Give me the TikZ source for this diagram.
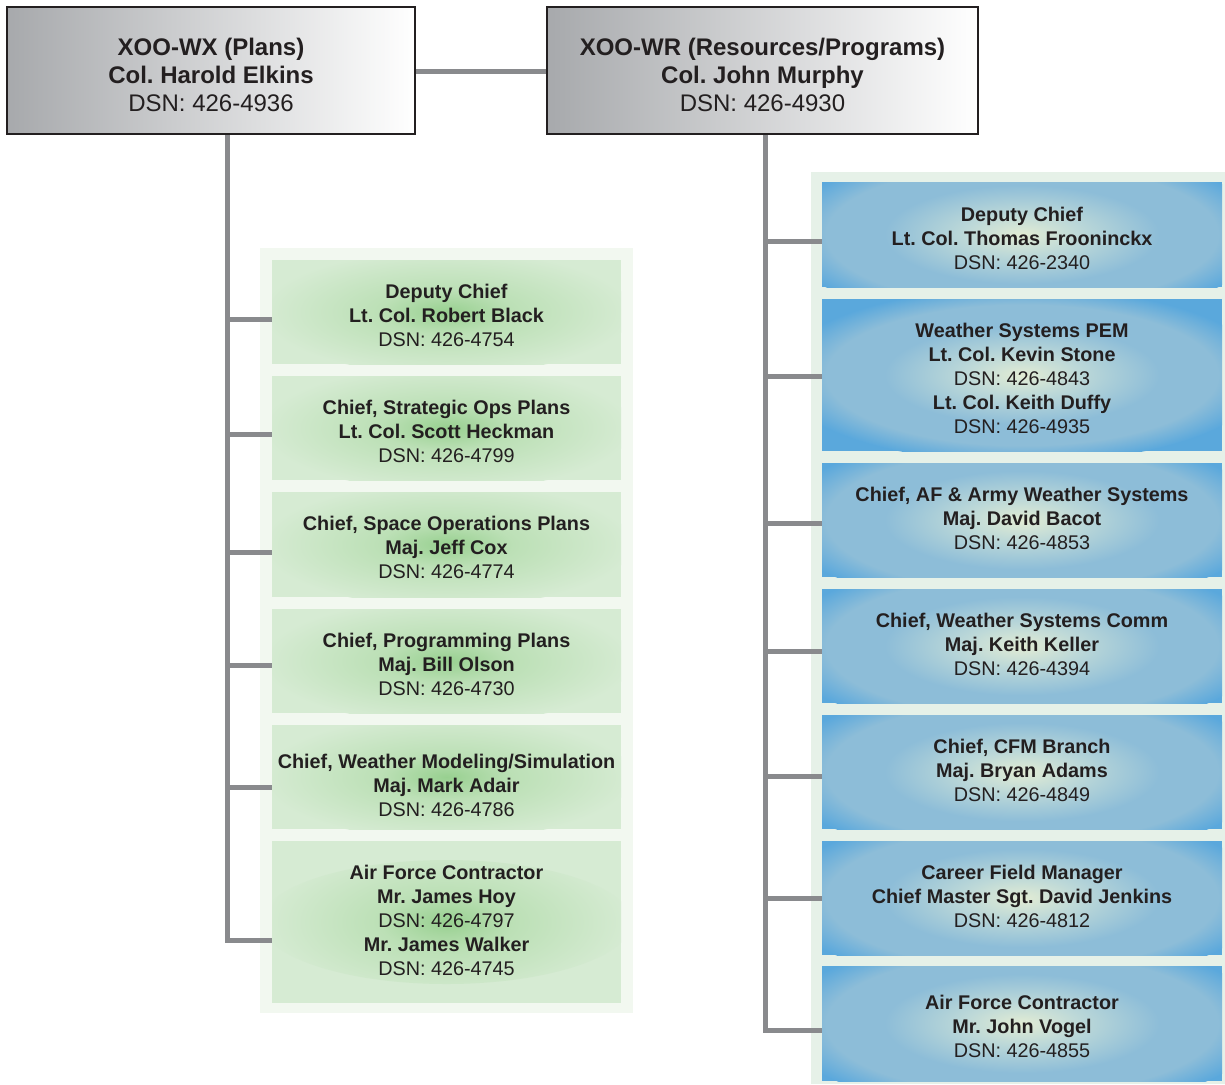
\documentclass[tikz,border=0pt]{standalone}
\usepackage{fontspec}
\setmainfont{Liberation Sans}
\frenchspacing
\definecolor{txt}{HTML}{231F20}
\definecolor{conn}{HTML}{898A8D}
\definecolor{grayL}{HTML}{A7A9AC}
\definecolor{gpanel}{HTML}{F2F8F0}
\definecolor{bpanel}{HTML}{E6F1E8}
\definecolor{gedge}{HTML}{D6EBD3}
\definecolor{gmid}{HTML}{BCE0B6}
\definecolor{gcent}{HTML}{98D090}
\definecolor{bedge}{HTML}{5AA8DC}
\definecolor{bmid}{HTML}{8DBDD8}
\definecolor{bpale}{HTML}{BCD8D8}
\definecolor{bcent}{HTML}{E2ECD4}
\pgfdeclareradialshading{gshade}{\pgfpoint{0bp}{0bp}}{color(0bp)=(gcent); color(9bp)=(gmid); color(25bp)=(gedge); color(50bp)=(gedge)}
\pgfdeclareradialshading{bshade}{\pgfpoint{0bp}{0bp}}{color(0bp)=(bcent); color(6bp)=(bpale); color(14bp)=(bmid); color(20bp)=(bmid); color(25bp)=(bedge); color(50bp)=(bedge)}
\tikzset{
  conline/.style={draw=conn,line width=5pt},
  topbox/.style={rectangle,draw=txt,line width=2.5pt,left color=grayL,right color=white,inner sep=0pt},
  toptext/.style={align=center,text=txt,inner sep=0pt,font=\fontsize{24}{28}\selectfont},
  boxtext/.style={align=center,text=txt,inner sep=0pt,font=\fontsize{19.8}{24}\selectfont},
  gbox/.style={rectangle,inner sep=0pt,minimum width=349pt,fill=gedge,
    path picture={\shade[shading=gshade]
      (path picture bounding box.center) ellipse (185pt and 62pt);}},
  bbox/.style={rectangle,inner sep=0pt,minimum width=400pt,fill=bedge,
    path picture={\shade[shading=bshade]
      (path picture bounding box.center) ellipse (245pt and 88pt);}},
}
\begin{document}
\begin{tikzpicture}[x=1pt,y=-1pt]
\useasboundingbox (0,0) rectangle (1225,1084);
% panels
\fill[gpanel] (260,248) rectangle (633,1013);
\fill[bpanel] (811,172) rectangle (1225,1084);
% top boxes
\node[topbox,minimum width=408pt,minimum height=127pt] (wx) at (211,70.5) {};
\node[toptext] (wxt) at ([yshift=-4.5pt]wx.center)
  {\textbf{XOO-WX (Plans)}\\\textbf{Col. Harold Elkins}\\DSN: 426-4936};
\node[topbox,minimum width=431pt,minimum height=127pt] (wr) at (762.5,70.5) {};
\node[toptext] (wrt) at ([yshift=-4.5pt]wr.center)
  {\textbf{XOO-WR (Resources/Programs)}\\\textbf{Col. John Murphy}\\DSN: 426-4930};
% green boxes
\node[gbox,minimum height=104pt] (g1) at (446.5,312) {};
\node[boxtext] (g1t) at ([yshift=-3pt]g1.center) {\textbf{Deputy Chief}\\\textbf{Lt. Col. Robert Black}\\DSN: 426-4754};
\node[gbox,minimum height=104pt] (g2) at (446.5,428) {};
\node[boxtext] (g2t) at ([yshift=-3pt]g2.center) {\textbf{Chief, Strategic Ops Plans}\\\textbf{Lt. Col. Scott Heckman}\\DSN: 426-4799};
\node[gbox,minimum height=105pt] (g3) at (446.5,544.5) {};
\node[boxtext] (g3t) at ([yshift=-3pt]g3.center) {\textbf{Chief, Space Operations Plans}\\\textbf{Maj. Jeff Cox}\\DSN: 426-4774};
\node[gbox,minimum height=104pt] (g4) at (446.5,661) {};
\node[boxtext] (g4t) at ([yshift=-3pt]g4.center) {\textbf{Chief, Programming Plans}\\\textbf{Maj. Bill Olson}\\DSN: 426-4730};
\node[gbox,minimum height=104pt] (g5) at (446.5,777) {};
\node[boxtext] (g5t) at ([yshift=-8pt]g5.center) {\textbf{Chief, Weather Modeling/Simulation}\\\textbf{Maj. Mark Adair}\\DSN: 426-4786};
\node[gbox,minimum height=162pt] (g6) at (446.5,922) {};
\node[boxtext] (g6t) at ([yshift=2pt]g6.center) {\textbf{Air Force Contractor}\\\textbf{Mr. James Hoy}\\DSN: 426-4797\\\textbf{Mr. James Walker}\\DSN: 426-4745};
% blue boxes
\node[bbox,minimum height=105pt] (b1) at (1022,234.5) {};
\node[boxtext] (b1t) at ([yshift=-4pt]b1.center) {\textbf{Deputy Chief}\\\textbf{Lt. Col. Thomas Frooninckx}\\DSN: 426-2340};
\node[bbox,minimum height=152pt] (b2) at (1022,375) {};
\node[boxtext] (b2t) at ([yshift=-3pt]b2.center) {\textbf{Weather Systems PEM}\\\textbf{Lt. Col. Kevin Stone}\\DSN: 426-4843\\\textbf{Lt. Col. Keith Duffy}\\DSN: 426-4935};
\node[bbox,minimum height=114pt] (b3) at (1022,520) {};
\node[boxtext] (b3t) at ([yshift=2pt]b3.center) {\textbf{Chief, AF \& Army Weather Systems}\\\textbf{Maj. David Bacot}\\DSN: 426-4853};
\node[bbox,minimum height=114pt] (b4) at (1022,646) {};
\node[boxtext] (b4t) at ([yshift=2pt]b4.center) {\textbf{Chief, Weather Systems Comm}\\\textbf{Maj. Keith Keller}\\DSN: 426-4394};
\node[bbox,minimum height=114pt] (b5) at (1022,772) {};
\node[boxtext] (b5t) at ([yshift=2pt]b5.center) {\textbf{Chief, CFM Branch}\\\textbf{Maj. Bryan Adams}\\DSN: 426-4849};
\node[bbox,minimum height=114pt] (b6) at (1022,898) {};
\node[boxtext] (b6t) at ([yshift=2pt]b6.center) {\textbf{Career Field Manager}\\\textbf{Chief Master Sgt. David Jenkins}\\DSN: 426-4812};
\node[bbox,minimum height=115pt] (b7) at (1022,1023.5) {};
\node[boxtext] (b7t) at ([yshift=-3pt]b7.center) {\textbf{Air Force Contractor}\\\textbf{Mr. John Vogel}\\DSN: 426-4855};
% connectors
\coordinate (tl) at (227,134);
\coordinate (tr) at (765,134);
\draw[conline] (wx.east |- 0,71) -- (wr.west |- 0,71);
\draw[conline] (wx.south -| tl) |- (g6.west |- 0,940);
\draw[conline] (g1.west |- 0,319) -- (tl |- 0,319);
\draw[conline] (g2.west |- 0,434) -- (tl |- 0,434);
\draw[conline] (g3.west |- 0,552) -- (tl |- 0,552);
\draw[conline] (g4.west |- 0,665) -- (tl |- 0,665);
\draw[conline] (g5.west |- 0,787) -- (tl |- 0,787);
\draw[conline] (wr.south -| tr) |- (b7.west |- 0,1030);
\draw[conline] (b1.west |- 0,241) -- (tr |- 0,241);
\draw[conline] (b2.west |- 0,376) -- (tr |- 0,376);
\draw[conline] (b3.west |- 0,523) -- (tr |- 0,523);
\draw[conline] (b4.west |- 0,651) -- (tr |- 0,651);
\draw[conline] (b5.west |- 0,776) -- (tr |- 0,776);
\draw[conline] (b6.west |- 0,898) -- (tr |- 0,898);
\end{tikzpicture}
\end{document}
